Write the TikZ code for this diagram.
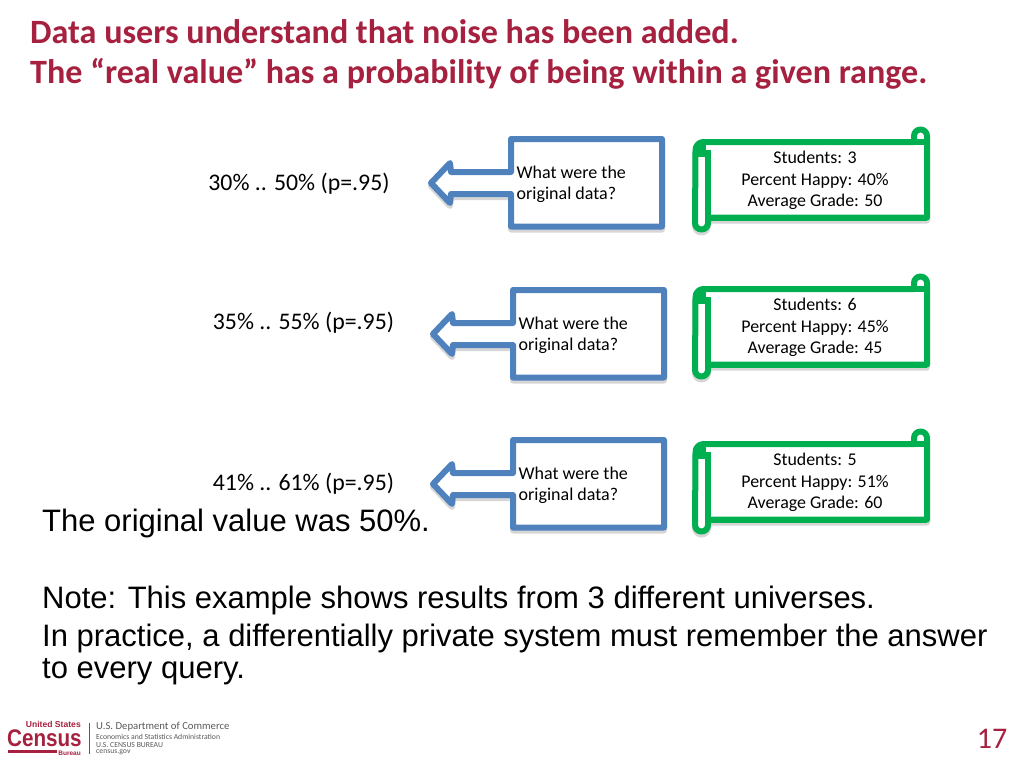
\documentclass[tikz,border=0pt]{standalone}
\usepackage{fontspec}
\setmainfont{Carlito}
\newfontfamily\arialf{Liberation Sans}
\definecolor{crim}{HTML}{A6203F}
\definecolor{bluec}{HTML}{4F81BD}
\definecolor{greenc}{HTML}{00B050}
\definecolor{logog}{HTML}{5A5A5A}
\newcommand{\fs}[1]{\fontsize{#1}{#1}\selectfont}
\tikzset{
  x=1pt,y=-1pt,
  titletxt/.style={anchor=west,inner sep=0pt,text=crim,font=\fs{34.1}\bfseries},
  bodytxt/.style={anchor=west,inner sep=0pt,text=black,font=\arialf\fs{31}},
  rangetxt/.style={anchor=center,inner sep=0pt,text=black,font=\fs{23.8}},
  calltxt/.style={anchor=west,inner sep=0pt,text=black,font=\fs{18},align=left},
  scrolltxt/.style={anchor=center,inner sep=0pt,text=black,font=\fs{17.9},align=center},
  shadowln/.style={line width=6pt,line join=round,draw=black!40,opacity=.4},
  callln/.style={line width=6pt,line join=round,draw=bluec,fill=white},
  scrollln/.style={line width=6pt,line join=round,draw=greenc,fill=white},
  logotxt/.style={anchor=west,inner sep=0pt,text=logog,font=\fs{7.7}},
}
\newcommand{\callpath}{(511,139) -- (662,139) -- (662,226.5) -- (511,226.5) -- (511,194) -- (451,194) -- (450,203) -- (431,183) -- (450,163) -- (451,172) -- (511,172) -- cycle}
\newcommand{\scrollbody}{(708,142) -- (914,142) -- (914,136) arc[start angle=180,end angle=360,radius=6.5] -- (927,217.5) -- (708,217.5) -- (708,223) arc[start angle=0,end angle=180,radius=6.5] -- (695.5,150) arc[start angle=180,end angle=270,radius=8] -- cycle}
\newcommand{\callout}[3]{%
  \begin{scope}[shift={(#1,#2)}]
    \begin{scope}[yshift=-3pt]\draw[shadowln] \callpath;\end{scope}
    \draw[callln] \callpath;
    \node[calltxt] (#3) at (516.5,184) {What were the\\[3.4pt]original data?};
  \end{scope}}
\newcommand{\scrollbox}[4]{%
  \begin{scope}[shift={(0,#1)}]
    \begin{scope}[yshift=-3pt]\draw[shadowln] \scrollbody;\end{scope}
    \draw[scrollln] \scrollbody;
    \draw[greenc,line width=6pt,line join=round] (927,217.5) -- (708,217.5) -- (708,150);
    \draw[greenc,line width=6pt] (705,142) -- (927,142);
    \fill[greenc] (697,144) rectangle (706,157);
    \node[scrolltxt] (#4) at (815,180.5) {Students: #2\\[3.5pt]Percent Happy: #3\\[3.5pt]Average Grade: \scrollgrade};
  \end{scope}}
\begin{document}
\begin{tikzpicture}
\useasboundingbox (0,0) rectangle (1024,768);
\fill[white] (0,0) rectangle (1024,768);
\node[titletxt] (t1) at (30,32) {Data users understand that noise has been added.};
\node[titletxt] (t2) at (30,74) {The “real value” has a probability of being within a given range.};
\callout{0}{0}{c1}
\callout{2}{151}{c2}
\callout{2}{301}{c3}
\def\scrollgrade{50}\scrollbox{0}{3}{40\%}{s1}
\def\scrollgrade{45}\scrollbox{147}{6}{45\%}{s2}
\def\scrollgrade{60}\scrollbox{302}{5}{51\%}{s3}
\node[rangetxt] (r1) at (299,184) {30\% .. 50\% (p=.95)};
\node[rangetxt] (r2) at (303.5,323) {35\% .. 55\% (p=.95)};
\node[rangetxt] (r3) at (303.5,484) {41\% .. 61\% (p=.95)};
\node[bodytxt] (b1) at (42,523) {The original value was 50\%.};
\node[bodytxt] (b2) at (42,600) {Note: This example shows results from 3 different universes.};
\node[bodytxt] (b3) at (42,638) {In practice, a differentially private system must remember the answer};
\node[bodytxt] (b4) at (42,672) {to every query.};
\node[anchor=center,inner sep=0pt,text=crim,font=\fs{30}] (pg) at (992,739) {17};
% logo
\node[anchor=east,inner sep=0pt,text=crim,font=\arialf\fs{8.6}\bfseries] (l1) at (81,724.5) {United States};
\node[anchor=west,inner sep=0pt,text=crim,font=\arialf\fs{24}\bfseries,xscale=.86,transform shape] (l2) at (7,738.5) {Census};
\node[anchor=east,inner sep=0pt,text=crim,font=\arialf\fs{6.5}\bfseries] (l3) at (81,753) {Bureau};
\fill[crim] (8,750) rectangle (57,753);
\draw[logog,line width=.8pt] (89,723) -- (89,754);
\node[anchor=west,inner sep=0pt,text=logog,font=\fs{10.7}] (l4) at (96,727) {U.S. Department of Commerce};
\node[logotxt] (l5) at (96,737) {Economics and Statistics Administration};
\node[logotxt] (l6) at (96,745) {U.S. CENSUS BUREAU};
\node[logotxt] (l7) at (96,752) {census.gov};
\end{tikzpicture}
\end{document}
